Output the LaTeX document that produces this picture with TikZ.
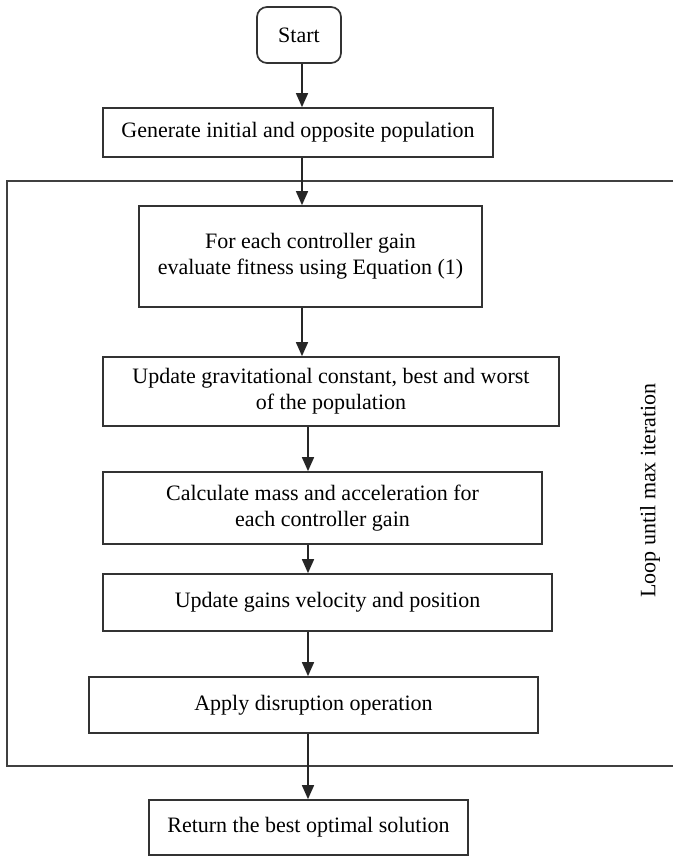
\documentclass[tikz,border=0pt]{standalone}
\usepackage{fontspec}
\setmainfont{Liberation Serif}
\usetikzlibrary{arrows.meta}
\begin{document}
\begin{tikzpicture}[x=1pt,y=1pt,
  every node/.style={font=\fontsize{22}{26}\selectfont, text=black},
  stepbox/.style={draw=black!80, line width=1.7pt, align=center, inner sep=0pt},
  arr/.style={draw=black!85, line width=1.6pt, -{Triangle[length=14pt,width=12pt]}},
  loopline/.style={draw=black!75, line width=1.7pt}]
\useasboundingbox (0,0) rectangle (673,857);

% process steps
\node[stepbox, rounded corners=10pt, minimum width=84pt, minimum height=56pt] (start) at (299,822) {Start};
\node[stepbox, minimum width=390pt, minimum height=49pt] (gen) at (298,724.5) {Generate initial and opposite population};
\node[stepbox, minimum width=343pt, minimum height=101pt] (eval) at (310.5,600.5) {For each controller gain\\evaluate fitness using Equation (1)};
\node[stepbox, minimum width=456pt, minimum height=69pt] (upd) at (331,465.5) {Update gravitational constant, best and worst\\of the population};
\node[stepbox, minimum width=439pt, minimum height=72pt] (mass) at (322.5,349) {Calculate mass and acceleration for\\each controller gain};
\node[stepbox, minimum width=449pt, minimum height=57pt] (vel) at (327.5,254.5) {Update gains velocity and position};
\node[stepbox, minimum width=449pt, minimum height=56pt] (dis) at (313.5,152) {Apply disruption operation};
\node[stepbox, minimum width=319pt, minimum height=55pt] (ret) at (308.5,29.5) {Return the best optimal solution};

% loop frame (open on the right)
\coordinate (lt) at (7,676);
\coordinate (lb) at (7,91);
\draw[loopline] (673,676) -- (lt) -- (lb) -- (673,91);
\node[rotate=90] (looplbl) at (650,366.5) {Loop until max iteration};

% vertical axes for the connectors
\coordinate (spineA) at (302,0);
\coordinate (spineB) at (308,0);

% connectors
\draw[arr] (start.south -| spineA) -- (gen.north -| spineA);
\draw[arr] (gen.south -| spineA) -- (eval.north -| spineA);
\draw[arr] (eval.south -| spineA) -- (upd.north -| spineA);
\draw[arr] (upd.south -| spineB) -- (mass.north -| spineB);
\draw[arr] (mass.south -| spineB) -- (vel.north -| spineB);
\draw[arr] (vel.south -| spineB) -- (dis.north -| spineB);
\draw[arr] (dis.south -| spineB) -- (ret.north -| spineB);
\end{tikzpicture}
\end{document}
